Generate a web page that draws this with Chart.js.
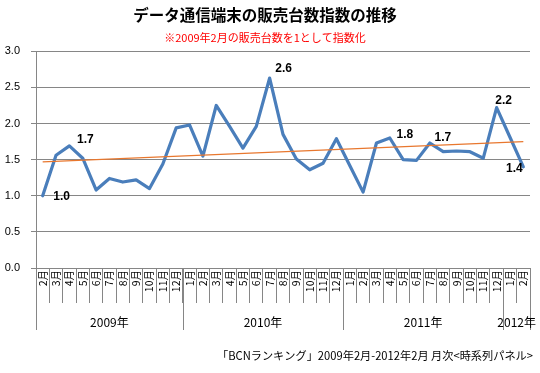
<!DOCTYPE html>
<html><head><meta charset="utf-8">
<script src="https://cdn.jsdelivr.net/npm/chart.js@4/dist/chart.umd.min.js"></script>
<style>html,body{margin:0;padding:0;background:#fff;}#wrap{width:540px;height:373px;}</style>
</head><body><div id="wrap"><canvas id="c" width="540" height="373"></canvas></div>
<script>
const titleText = 'データ通信端末の販売台数指数の推移';
const subtitleText = '※2009年2月の販売台数を1として指数化';
const footerText = '「BCNランキング」2009年2月-2012年2月 月次<時系列パネル>';
const monthLabels = ['2月','3月','4月','5月','6月','7月','8月','9月','10月','11月','12月',
  '1月','2月','3月','4月','5月','6月','7月','8月','9月','10月','11月','12月',
  '1月','2月','3月','4月','5月','6月','7月','8月','9月','10月','11月','12月',
  '1月','2月'];
const yearLabels = ['2009年','2010年','2011年','2012年'];
const yearMonthCounts = [11, 12, 12, 2];
const indexValues = [1.00,1.56,1.69,1.52,1.08,1.24,1.19,1.22,1.10,1.44,1.94,1.98,1.55,2.25,1.96,1.66,1.96,2.63,1.85,
  1.51,1.36,1.45,1.79,1.42,1.05,1.73,1.80,1.50,1.49,1.73,1.61,1.62,1.61,1.52,2.22,1.81,1.40];
const trendStart = 1.47, trendEnd = 1.75;
const labelledPoints = [0, 2, 17, 26, 29, 34, 36];
const yTicks = [0, 0.5, 1.0, 1.5, 2.0, 2.5, 3.0];

const trendData = indexValues.map(() => null);
trendData[0] = trendStart; trendData[trendData.length - 1] = trendEnd;

const labelOffsets = {0:[19,1],2:[16,-6],17:[14,-9],26:[15,-3],29:[13,-5],34:[7,-7],36:[-9,2]};
const GRID = '#868686';

const extras = {
  id: 'extras',
  afterDatasetsDraw(chart) {
    const ctx = chart.ctx;
    const meta = chart.getDatasetMeta(1);
    ctx.save();
    ctx.fillStyle = '#000';
    ctx.font = 'bold 12px "Liberation Sans", Arial, sans-serif';
    ctx.textAlign = 'center'; ctx.textBaseline = 'middle';
    labelledPoints.forEach(i => {
      const p = meta.data[i]; const o = labelOffsets[i] || [0, -10];
      ctx.fillText(indexValues[i].toFixed(1), p.x + o[0], p.y + o[1]);
    });
    ctx.restore();
  },
  afterDraw(chart) {
    const ctx = chart.ctx, xs = chart.scales.x, top = chart.chartArea.bottom;
    const half = (xs.getPixelForValue(1) - xs.getPixelForValue(0)) / 2;
    ctx.save();
    ctx.strokeStyle = GRID; ctx.lineWidth = 1;
    let start = 0;
    const bounds = [0];
    yearMonthCounts.forEach(n => { start += n; bounds.push(start); });
    bounds.forEach(b => {
      const x = Math.round(xs.getPixelForValue(b) - half) + 0.5;
      ctx.beginPath(); ctx.moveTo(x, top); ctx.lineTo(x, top + 62); ctx.stroke();
    });
    ctx.fillStyle = '#000';
    ctx.font = '12px "Noto Sans CJK JP", sans-serif';
    ctx.textAlign = 'center'; ctx.textBaseline = 'middle';
    yearLabels.forEach((t, k) => {
      const a = bounds[k], b = bounds[k + 1] - 1;
      const cx = (xs.getPixelForValue(a) + xs.getPixelForValue(b)) / 2;
      ctx.fillText(t, cx, 322);
    });
    ctx.font = '11.2px "Noto Sans CJK JP", sans-serif';
    ctx.textAlign = 'right';
    ctx.fillText(footerText, 533, 356);
    ctx.restore();
  }
};

new Chart(document.getElementById('c'), {
  type: 'line',
  data: {
    labels: monthLabels,
    datasets: [
      { label: 'trend', data: trendData, borderColor: '#e8772e', borderWidth: 1.2, pointRadius: 0, spanGaps: true, tension: 0 },
      { label: 'index', data: indexValues, borderColor: '#4a7ebb', borderWidth: 3.2, pointRadius: 0, tension: 0, borderJoinStyle: 'round', borderCapStyle: 'round' }
    ]
  },
  options: {
    responsive: false, animation: false,
    layout: { padding: { left: 0, right: 10, top: 0, bottom: 43 } },
    plugins: {
      legend: { display: false }, tooltip: { enabled: false },
      title: { display: true, text: titleText, color: '#000',
        font: { family: '"Noto Sans CJK JP", sans-serif', size: 15.5, weight: 'bold', lineHeight: 1.2 },
        padding: { top: 6, bottom: 7 } },
      subtitle: { display: true, text: subtitleText, color: '#ff0000',
        font: { family: '"Noto Sans CJK JP", sans-serif', size: 11, lineHeight: 1.2 },
        padding: { top: 0, bottom: 6.5 } }
    },
    scales: {
      x: {
        type: 'category', offset: true,
        grid: { offset: true, drawOnChartArea: false, drawTicks: true, tickLength: 35, color: GRID },
        border: { display: true, color: GRID },
        ticks: { autoSkip: false, minRotation: 90, maxRotation: 90, padding: -33, color: '#000',
          font: { family: '"Noto Sans CJK JP", sans-serif', size: 10.5 } },
        afterFit(s) { s.height = 62; }
      },
      y: {
        min: 0, max: 3,
        afterBuildTicks(s) { s.ticks = yTicks.map(v => ({ value: v })); },
        grid: { color: GRID, tickLength: 5, drawTicks: true },
        border: { display: true, color: GRID },
        ticks: { padding: 11, color: '#000', callback: v => Number(v).toFixed(1),
          font: { family: '"Liberation Sans", Arial, sans-serif', size: 11 } },
        afterFit(s) { s.width = 36; }
      }
    }
  },
  plugins: [extras]
});
</script></body></html>
